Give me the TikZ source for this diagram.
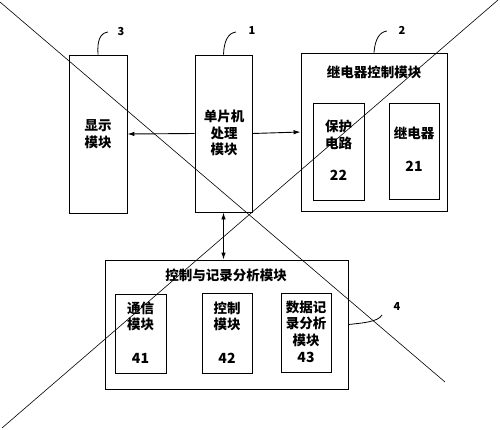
\documentclass[tikz,border=0pt]{standalone}
\usepackage{fontspec}
\setmainfont{Noto Sans CJK SC}
\usetikzlibrary{arrows.meta}
\tikzset{
  box/.style={draw, line width=0.9pt, inner sep=0pt, anchor=center},
  txt/.style={font=\fontsize{13.5}{16.5}\selectfont\bfseries, align=center, inner sep=0pt},
  num/.style={font=\fontsize{14}{16}\selectfont\bfseries, inner sep=0pt},
  lbl/.style={font=\fontsize{11}{13}\selectfont\bfseries, inner sep=0pt},
  arr/.style={line width=0.9pt, -{Latex[length=7pt,width=4.5pt]}},
  darr/.style={line width=0.9pt, {Latex[length=7pt,width=4.5pt]}-{Latex[length=7pt,width=4.5pt]}},
  lead/.style={line width=0.8pt},
  cross/.style={line width=0.6pt}
}
\begin{document}
\begin{tikzpicture}[x=1pt,y=-1pt]
\useasboundingbox[fill=white] (0,0) rectangle (500,429);
% boxes
\node[box, minimum width=58pt, minimum height=158pt] (disp) at (98,134) {};
\node[box, minimum width=57pt, minimum height=157pt] (mcu) at (223.5,133.5) {};
\node[box, minimum width=146pt, minimum height=158pt] (relay) at (374,132) {};
\node[box, minimum width=51pt, minimum height=97pt] (prot) at (338.5,151.5) {};
\node[box, minimum width=50pt, minimum height=96pt] (rel) at (414,151) {};
\node[box, minimum width=243pt, minimum height=129pt] (bot) at (226.5,324.5) {};
\node[box, minimum width=51pt, minimum height=79pt] (comm) at (140.5,333.5) {};
\node[box, minimum width=50pt, minimum height=80pt] (ctrl) at (227,333) {};
\node[box, minimum width=50pt, minimum height=79pt] (data) at (306,332.5) {};
% texts
\node[txt] (tdisp) at (98,134) {显示\\模块};
\node[txt] (tmcu) at (224,133) {单片机\\处理\\模块};
\node[txt] (trelay) at (374,72) {继电器控制模块};
\node[txt] (tprot) at (338.5,135) {保护\\电路};
\node[num] (nprot) at (338.5,175) {22};
\node[txt] (trel) at (414,133) {继电器};
\node[num] (nrel) at (414,166) {21};
\node[txt] (tbot) at (226,275) {控制与记录分析模块};
\node[txt] (tcomm) at (140.5,316.5) {通信\\模块};
\node[num] (ncomm) at (140.5,358) {41};
\node[txt] (tctrl) at (227,316.5) {控制\\模块};
\node[num] (nctrl) at (227,358) {42};
\node[txt] (tdata) at (306,323.5) {数据记\\录分析\\模块};
\node[num] (ndata) at (306,357) {43};
% arrows
\draw[arr] (mcu.west) -- (disp.east);
\draw[arr] (mcu.east) -- (relay.west);
\draw[darr] (mcu.south) -- (mcu.south |- bot.north);
% reference labels
\node[lbl] (l3) at (121,32) {3};
\node[lbl] (l1) at (252,31) {1};
\node[lbl] (l2) at (402,30) {2};
\node[lbl] (l4) at (397,306) {4};
\coordinate (e3) at (108,32);
\coordinate (e1) at (236,32);
\coordinate (e2) at (387,31);
\coordinate (e4) at (382,315);
\draw[lead] (disp.north) .. controls (97,41) and (100,33) .. (e3);
\draw[lead] (mcu.north) .. controls (224,41) and (228,33) .. (e1);
\draw[lead] (relay.north) .. controls (375,40) and (379,32) .. (e2);
\draw[lead] (bot.east) .. controls (362,323) and (378,322) .. (e4);
% cross
\coordinate (c1) at (0,2);
\coordinate (c2) at (445,382);
\coordinate (c3) at (2,428);
\coordinate (c4) at (498,0);
\draw[cross] (c1) -- (c2);
\draw[cross] (c3) -- (c4);
\end{tikzpicture}
\end{document}
